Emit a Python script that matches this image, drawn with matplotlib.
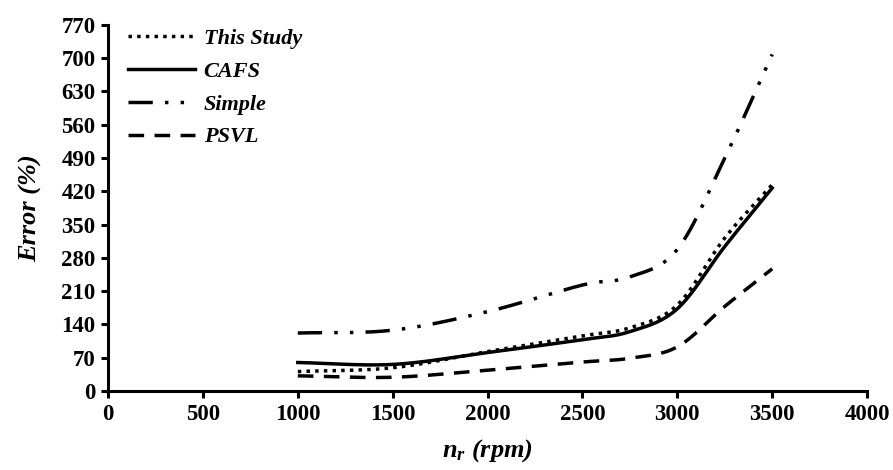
import numpy as np
import matplotlib
matplotlib.use('Agg')
import matplotlib.pyplot as plt

plt.rcParams['font.family'] = ['Liberation Serif', 'DejaVu Serif']
plt.rcParams['mathtext.fontset'] = 'custom'
plt.rcParams['mathtext.it'] = 'Liberation Serif:bold:italic'
plt.rcParams['mathtext.rm'] = 'Liberation Serif:bold'

# data
speed = [1000, 1500, 2000, 2500, 2750, 3000, 3250, 3500]
this_study = [41, 49, 83, 116, 133, 181, 322, 434]
cafs = [60, 56, 81, 108, 125, 173, 304, 427]
simple = [122, 128, 167, 223, 240, 298, 490, 708]
psvl = [32, 29, 44, 61, 69, 93, 178, 257]

labels = ['This Study', 'CAFS', 'Simple', 'PSVL']
styles = [(0, (1, 1.5)), '-', (0, (7, 3.5, 1, 3.5, 1, 3.5)), (0, (4.5, 3))]


# smooth line like a spreadsheet "smoothed line" (Catmull-Rom)
def smooth(x, y, n=30):
    x = np.asarray(x, float)
    y = np.asarray(y, float)
    px = np.concatenate([[2 * x[0] - x[1]], x, [2 * x[-1] - x[-2]]])
    py = np.concatenate([[2 * y[0] - y[1]], y, [2 * y[-1] - y[-2]]])
    xs, ys = [], []
    t = np.linspace(0, 1, n)
    for i in range(1, len(px) - 2):
        for arr, out in ((px, xs), (py, ys)):
            p0, p1, p2, p3 = arr[i - 1], arr[i], arr[i + 1], arr[i + 2]
            out.extend(0.5 * (2 * p1 + (-p0 + p2) * t
                              + (2 * p0 - 5 * p1 + 4 * p2 - p3) * t ** 2
                              + (-p0 + 3 * p1 - 3 * p2 + p3) * t ** 3))
    return xs, ys


fig = plt.figure(figsize=(8.93, 4.70), dpi=100)
ax = fig.add_axes([0.121, 0.168, 0.850, 0.779])

for vals, lab, ls in zip([this_study, cafs, simple, psvl], labels, styles):
    sx, sy = smooth(speed, vals)
    ax.plot(sx, sy, color='black', linestyle=ls, linewidth=2.5, label=lab)

ax.set_xlim(0, 4000)
ax.set_ylim(0, 770)
ax.set_xticks(np.arange(0, 4001, 500))
ax.set_yticks(np.arange(0, 771, 70))

for s in ['top', 'right']:
    ax.spines[s].set_visible(False)
for s in ['left', 'bottom']:
    ax.spines[s].set_linewidth(2.2)
ax.tick_params(width=2.2, length=5, direction='out', labelsize=16.5, pad=4)
for t in ax.get_xticklabels() + ax.get_yticklabels():
    t.set_fontweight('bold')

ax.set_ylabel('Error (%)', fontsize=19, fontweight='bold', style='italic', labelpad=14)
ax.set_xlabel(r'$n_r$ (rpm)', fontsize=19, fontweight='bold', style='italic', labelpad=9)

leg = ax.legend(loc='upper left', bbox_to_anchor=(0.0, 1.045), frameon=False,
                handlelength=3.0, handletextpad=0.4, labelspacing=0.55,
                prop={'family': 'Liberation Serif', 'weight': 'bold', 'style': 'italic', 'size': 16})

fig.savefig('out.png', dpi=100)
